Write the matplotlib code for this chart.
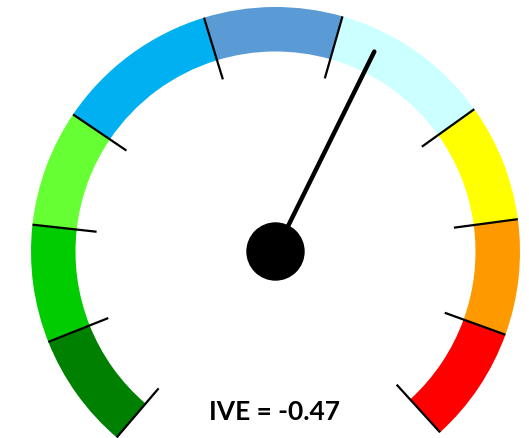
import numpy as np
import matplotlib
matplotlib.use("Agg")
import matplotlib.pyplot as plt
from matplotlib.patches import Wedge, Circle

# Gauge bands, left (start) to right (end), boundary angles in degrees
band_edges = [229.5, 201.7, 173.7, 145.9, 107.0, 74.1, 35.6, 7.6, -19.9, -47.7]
band_colors = ["#008000", "#00cc00", "#66ff33", "#00b0f0", "#5b9bd5",
               "#ccffff", "#ffff00", "#ff9900", "#ff0000"]

ive_value = -0.47
needle_angle = 63.7  # degrees, where the needle points

# geometry (pixels)
cx, cy = 275.5, 186.5
r_out, r_in = 244.5, 200.0
tick_in = 180.0
needle_len = 223.0
hub_r = 28.5

fig = plt.figure(figsize=(5.29, 4.39), dpi=100)
ax = fig.add_axes([0, 0, 1, 1])
ax.set_xlim(0, 529)
ax.set_ylim(0, 439)
ax.set_aspect("equal")
ax.axis("off")

# colored bands
for i, col in enumerate(band_colors):
    a1, a2 = band_edges[i + 1], band_edges[i]
    ax.add_patch(Wedge((cx, cy), r_out, a1, a2, width=r_out - r_in,
                       facecolor=col, edgecolor="none"))

# tick marks at every boundary
for a in band_edges:
    t = np.radians(a)
    ax.plot([cx + r_out * np.cos(t), cx + tick_in * np.cos(t)],
            [cy + r_out * np.sin(t), cy + tick_in * np.sin(t)],
            color="black", lw=1.6, solid_capstyle="butt")

# needle
t = np.radians(needle_angle)
ax.plot([cx, cx + needle_len * np.cos(t)], [cy, cy + needle_len * np.sin(t)],
        color="black", lw=3.2, solid_capstyle="round")
ax.add_patch(Circle((cx, cy), hub_r, color="black"))

ax.text(274.5, 19, f"IVE = {ive_value:.2f}", ha="center", va="baseline",
        fontsize=19, fontweight="bold", family="Lato")

fig.savefig("out.png", dpi=100)
